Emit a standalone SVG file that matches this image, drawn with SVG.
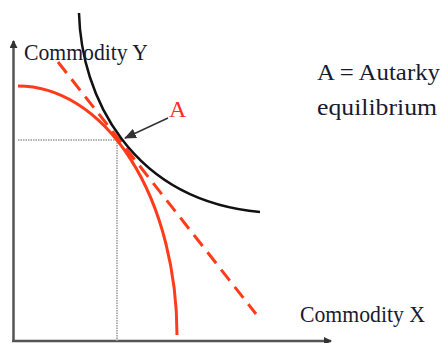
<svg xmlns="http://www.w3.org/2000/svg" width="446" height="343" viewBox="0 0 446 343">
<style>
text{font-family:'Liberation Serif','Times New Roman',serif}
.t{font-size:24px;fill:#1a1a2e}
.axis{stroke:#555;stroke-width:2.5;fill:none}
.guide{stroke:#999;stroke-width:1.5;stroke-dasharray:1.5,1;fill:none}
.red{stroke:#ff3b1a;stroke-width:3;fill:none}
</style>
<defs>
<marker id="ah" markerWidth="8" markerHeight="8" refX="7" refY="4" orient="auto" markerUnits="userSpaceOnUse"><path d="M0,0 L8,4 L0,8 Z" fill="#333"/></marker>
<marker id="ah2" markerWidth="12" markerHeight="10" refX="11" refY="5" orient="auto" markerUnits="userSpaceOnUse"><path d="M0,0 L12,5 L0,10 Z" fill="#333"/></marker>
</defs>
<g id="axes">
<line class="axis" x1="13.5" y1="341" x2="13.5" y2="41" marker-end="url(#ah)"/>
<line class="axis" x1="12" y1="341" x2="331" y2="341" marker-end="url(#ah)"/>
</g>
<g id="guides">
<line class="guide" x1="18" y1="140" x2="118" y2="140"/>
<line class="guide" x1="117" y1="140" x2="117" y2="341"/>
</g>
<g id="ppf"><path class="red" d="M18,86 A159,249 0 0 1 177,335"/></g>
<g id="price-line"><line class="red" x1="58" y1="62" x2="256" y2="314" stroke-dasharray="14,8"/></g>
<g id="indifference"><path d="M79,13 C81,95 130,200 260,212" stroke="#111" stroke-width="2.5" fill="none"/></g>
<g id="connectors"><line x1="168" y1="118" x2="125" y2="138" stroke="#333" stroke-width="1.5" marker-end="url(#ah2)"/></g>
<g id="labels">
<text class="t" x="24" y="60" font-family="Liberation Serif, serif" textLength="124" lengthAdjust="spacingAndGlyphs">Commodity Y</text>
<text class="t" x="300" y="322" font-family="Liberation Serif, serif" textLength="125" lengthAdjust="spacingAndGlyphs">Commodity X</text>
<text class="t" x="317" y="80" font-family="Liberation Serif, serif" textLength="123" lengthAdjust="spacingAndGlyphs">A = Autarky</text>
<text class="t" x="317" y="115" font-family="Liberation Serif, serif" textLength="120" lengthAdjust="spacingAndGlyphs">equilibrium</text>
<text x="169" y="117" font-family="Liberation Serif, serif" style="font-size:24px;fill:#ff2a2a">A</text>
</g>
</svg>
